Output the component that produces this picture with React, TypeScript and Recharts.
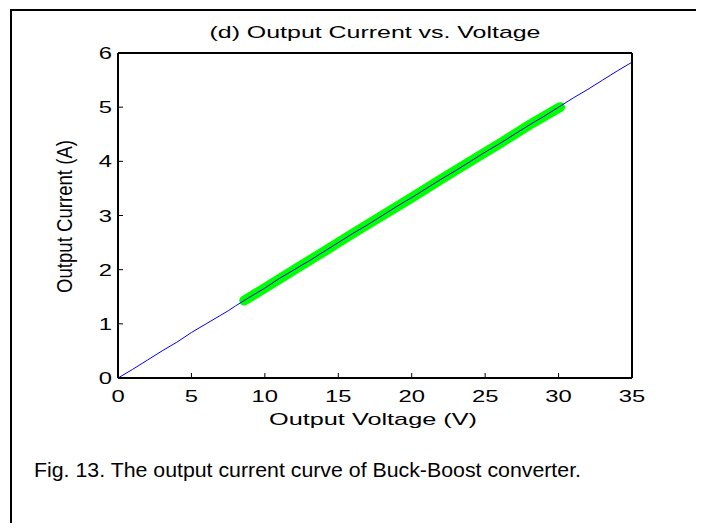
import { LineChart, Line, XAxis, YAxis } from 'recharts';

// fitted (model) curve
const voltage = [0, 1, 2, 3, 4, 5, 6, 7, 7.5, 8, 9, 10, 11, 12, 13, 14, 15, 16, 17, 18, 19, 20, 21, 22, 23, 24, 25, 26, 27, 28, 29, 30, 31, 32, 33, 34, 35];
const current = [0, 0.16, 0.33, 0.5, 0.66, 0.84, 1.0, 1.16, 1.24, 1.33, 1.5, 1.66, 1.84, 2.0, 2.16, 2.33, 2.5, 2.67, 2.83, 3.0, 3.17, 3.33, 3.5, 3.67, 3.83, 4.0, 4.17, 4.33, 4.5, 4.67, 4.83, 5.0, 5.17, 5.33, 5.5, 5.67, 5.83];

// measured points
const measuredVoltage = [8.6, 10, 12, 14, 16, 18, 20, 22, 24, 26, 28, 30.1];
const measuredCurrent = [1.43, 1.66, 2.0, 2.33, 2.67, 3.0, 3.33, 3.67, 4.0, 4.33, 4.67, 5.0];

const xTicks = [0, 5, 10, 15, 20, 25, 30, 35];
const yTicks = [0, 1, 2, 3, 4, 5, 6];

const fitData = voltage.map((v, k) => ({ v, i: current[k] }));
const measuredData = measuredVoltage.map((v, k) => ({ v, i: measuredCurrent[k] }));

const font = 'Liberation Sans, Arial, sans-serif';
const axisLine = { stroke: '#000', strokeWidth: 2 };
const stretch = 1.4; // the source figure is stretched sideways

const BottomTick = ({ x, y, payload }: any) => (
  <g transform={`translate(${x},${y}) scale(${stretch},1)`}>
    <text x={0} y={17} textAnchor="middle" fontSize={17} fontFamily={font} fill="#000">
      {payload.value}
    </text>
  </g>
);

const LeftTick = ({ x, y, payload }: any) => (
  <g transform={`translate(${x},${y}) scale(${stretch},1)`}>
    <text x={0} y={6} textAnchor="end" fontSize={17} fontFamily={font} fill="#000">
      {payload.value}
    </text>
  </g>
);

export default function App() {
  return (
    <div style={{ position: 'relative', width: 704, height: 531, margin: -8, overflow: 'hidden', background: '#fff' }}>
      <div style={{ position: 'absolute', left: 10, top: 9, width: 685, height: 560, border: '2px solid #000' }} />
      <div style={{ position: 'absolute', left: 0, top: 0 }}>
        <LineChart width={704} height={420} margin={{ top: 52, right: 71, bottom: 12, left: 58 }}>
          <XAxis
            xAxisId="b"
            dataKey="v"
            type="number"
            domain={[0, 35]}
            ticks={xTicks}
            height={30}
            tickSize={-5}
            tickMargin={12}
            tick={<BottomTick />}
            axisLine={axisLine}
            tickLine={{ stroke: '#000' }}
          />
          <XAxis
            xAxisId="t"
            orientation="top"
            dataKey="v"
            type="number"
            domain={[0, 35]}
            ticks={xTicks}
            height={1}
            tickSize={-5}
            tick={false}
            axisLine={axisLine}
            tickLine={{ stroke: '#000' }}
          />
          <YAxis
            yAxisId="l"
            type="number"
            domain={[0, 6]}
            ticks={yTicks}
            width={60}
            tickSize={-5}
            tickMargin={11}
            tick={<LeftTick />}
            axisLine={axisLine}
            tickLine={{ stroke: '#000' }}
          />
          <YAxis
            yAxisId="r"
            orientation="right"
            type="number"
            domain={[0, 6]}
            ticks={yTicks}
            width={1}
            tickSize={-5}
            tick={false}
            axisLine={axisLine}
            tickLine={{ stroke: '#000' }}
          />
          <Line
            xAxisId="b"
            yAxisId="l"
            data={measuredData}
            dataKey="i"
            stroke="#00ff00"
            strokeWidth={10}
            strokeLinecap="round"
            dot={false}
            isAnimationActive={false}
          />
          <Line
            xAxisId="b"
            yAxisId="l"
            data={fitData}
            dataKey="i"
            stroke="#0000ff"
            strokeWidth={1}
            dot={false}
            isAnimationActive={false}
          />
        </LineChart>
      </div>
      <svg width={704} height={531} style={{ position: 'absolute', left: 0, top: 0, pointerEvents: 'none' }}>
        <text x={375} y={38} textAnchor="middle" fontSize={17} fontFamily={font} textLength={331} lengthAdjust="spacingAndGlyphs">
          (d) Output Current vs. Voltage
        </text>
        <text x={373} y={425} textAnchor="middle" fontSize={17} fontFamily={font} textLength={208} lengthAdjust="spacingAndGlyphs">
          Output Voltage (V)
        </text>
        <g transform="translate(72,216.5) scale(1.3,1) rotate(-90)">
          <text x={0} y={0} textAnchor="middle" fontSize={17} fontFamily={font} textLength={153} lengthAdjust="spacingAndGlyphs">
            Output Current (A)
          </text>
        </g>
        <text x={34} y={477} fontSize={21} fontFamily={font} textLength={547} lengthAdjust="spacingAndGlyphs">
          Fig. 13. The output current curve of Buck-Boost converter.
        </text>
      </svg>
    </div>
  );
}
